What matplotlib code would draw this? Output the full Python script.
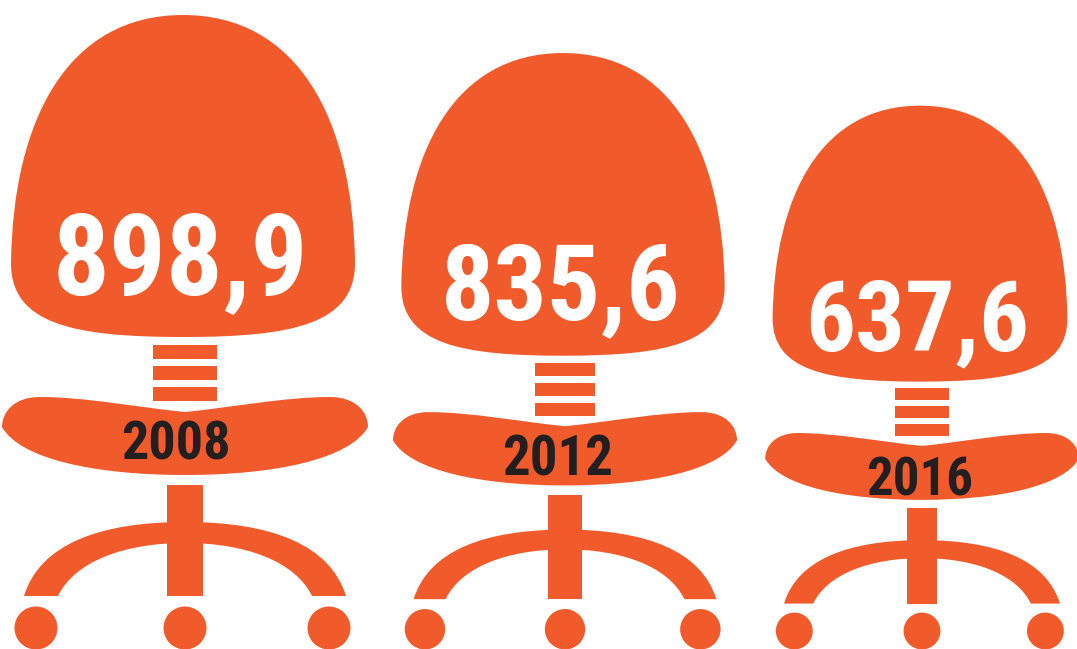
import matplotlib
matplotlib.use('Agg')
import matplotlib.pyplot as plt
from matplotlib.path import Path
from matplotlib.patches import PathPatch, Rectangle, Circle

years = ['2008', '2012', '2016']
values = [898.9, 835.6, 637.6]

# layout of each chair, in pixels of the picture
centers = [185, 565, 922]
scales = [1.0, 0.94, 0.857]
value_pos = [(180, 354), (561, 330), (917, 299)]
year_pos = [(176, 189), (558, 174), (920, 154)]
value_size = [81, 76, 71]
year_size = [39, 39.5, 38]

ORANGE = '#f15a2b'
DARK = '#231f20'
M, C, Z = Path.MOVETO, Path.CURVE4, Path.CLOSEPOLY


def bezier(pts):
    codes = [M] + [C] * (len(pts) - 1) + [Z]
    return Path(pts + [pts[0]], codes)


def mirrored(half):
    # half goes from top centre down the left side to bottom centre
    right = [(-x, y) for x, y in reversed(half[:-1])]
    return half + right


back = [(0, 634), (-115, 634), (-170, 530), (-172, 386),
        (-172, 325), (-110, 312), (0, 312)]
seat = [(0, 237), (-50, 242), (-100, 252), (-145, 252),
        (-172, 252), (-183, 236), (-183, 222),
        (-165, 190), (-90, 174), (0, 174)]
arms = [(0, 127), (-85, 127), (-145, 105), (-161, 53),
        (-150, 53), (-138, 53), (-127, 53),
        (-110, 88), (-60, 106), (0, 106)]


def place(pts, cx, s):
    return [(cx + x * s, y * s) for x, y in pts]


fig = plt.figure(figsize=(10.77, 6.49), dpi=100)
ax = fig.add_axes([0, 0, 1, 1])
ax.set_xlim(0, 1077)
ax.set_ylim(0, 649)
ax.axis('off')

for i, year in enumerate(years):
    cx, s = centers[i], scales[i]
    ax.add_patch(PathPatch(bezier(place(mirrored(back), cx - 2, s)), fc=ORANGE, ec='none'))
    for shape in (seat, arms):
        ax.add_patch(PathPatch(bezier(place(mirrored(shape), cx, s)), fc=ORANGE, ec='none'))
    # spring
    for y in (290, 269.5, 248):
        ax.add_patch(Rectangle((cx - 32 * s, y * s), 64 * s, 14 * s, fc=ORANGE, ec='none'))
    # post
    ax.add_patch(Rectangle((cx - 18 * s, 53 * s), 36 * s, 111 * s, fc=ORANGE, ec='none'))
    # wheels
    for dx in (-149, 0, 144):
        ax.add_patch(Circle((cx + dx * s, 21 * s), 21.5 * s, fc=ORANGE, ec='none'))
    ax.text(value_pos[i][0], value_pos[i][1], f'{values[i]}'.replace('.', ','), color='white',
            fontsize=value_size[i], fontweight='bold', family='Roboto Condensed', ha='center', va='baseline')
    ax.text(year_pos[i][0], year_pos[i][1], year, color=DARK, fontsize=year_size[i], fontweight='bold',
            family='Roboto Condensed', ha='center', va='baseline')

fig.savefig('out.png', dpi=100)
